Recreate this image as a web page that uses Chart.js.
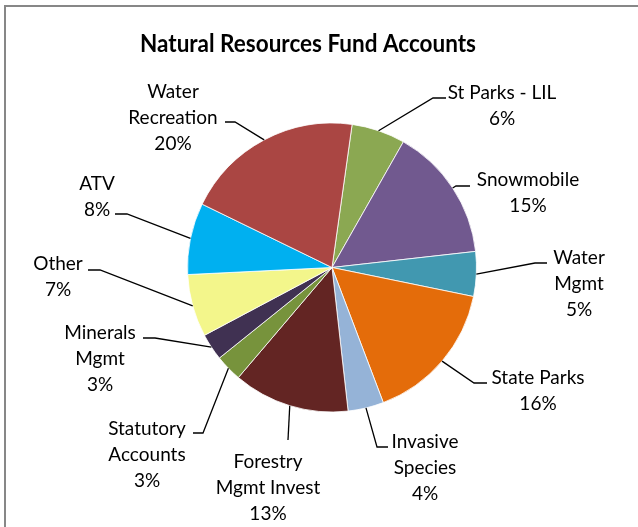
<!DOCTYPE html>
<html>
<head>
<meta charset="utf-8">
<script src="https://cdn.jsdelivr.net/npm/chart.js@4"></script>
<style>
  html, body { margin: 0; padding: 0; background: #fff; }
  #wrap { width: 638px; height: 527px; }
</style>
</head>
<body>
<div id="wrap"><canvas id="fundChart" width="638" height="527"></canvas></div>
<script>
// accounts, clockwise from the top
const accounts = [
  ['St Parks - LIL'],
  ['Snowmobile'],
  ['Water', 'Mgmt'],
  ['State Parks'],
  ['Invasive', 'Species'],
  ['Forestry', 'Mgmt Invest'],
  ['Statutory', 'Accounts'],
  ['Minerals', 'Mgmt'],
  ['Other'],
  ['ATV'],
  ['Water', 'Recreation']
];
const shares = [6, 15, 5, 16, 4, 13, 3, 3, 7, 8, 20];
const sliceColors = ['#8BA852', '#71598F', '#4198B0', '#E46C0A', '#95B3D7', '#632523',
                     '#77933C', '#403152', '#F3F68B', '#00B0F0', '#AA4643'];

// where each label sits: text centre x, first baseline, elbow and end of the leader
const labelSpots = [
  { x: 502, y: 99,  elbow: [433, 98],  end: [446, 98] },
  { x: 528, y: 186, elbow: [456, 186], end: [470, 186] },
  { x: 579, y: 264, elbow: [535, 263], end: [547, 263] },
  { x: 538, y: 384, elbow: [474, 383], end: [487, 383] },
  { x: 425, y: 448, elbow: [377, 447], end: [388, 447] },
  { x: 268, y: 468, elbow: [288, 440], end: [288, 440] },
  { x: 147, y: 435, elbow: [203, 433], end: [193, 433] },
  { x: 100, y: 339, elbow: [155, 338], end: [143, 338] },
  { x: 58,  y: 270, elbow: [100, 270], end: [88, 270] },
  { x: 97,  y: 190, elbow: [127, 214], end: [115, 214] },
  { x: 173, y: 98,  elbow: [235, 122], end: [225, 122] }
];

const labelFont = '19px Lato, "Open Sans", sans-serif';
const lineGap = 26;

const calloutPlugin = {
  id: 'callouts',
  beforeDraw(chart) {
    const ctx = chart.ctx;
    ctx.save();
    ctx.fillStyle = '#fff';
    ctx.fillRect(0, 0, chart.width, chart.height);
    ctx.fillStyle = '#878787';
    ctx.fillRect(4, 5, chart.width - 4, 2);
    ctx.fillRect(4, 5, 2, chart.height - 5);
    // title, a touch taller than the plain bold face
    ctx.fillStyle = '#000';
    ctx.font = 'bold 22.5px Lato, "Open Sans", sans-serif';
    ctx.textAlign = 'center';
    ctx.textBaseline = 'alphabetic';
    ctx.translate(308, 52);
    ctx.scale(1, 1.13);
    ctx.fillText('Natural Resources Fund Accounts', 0, 0);
    ctx.restore();
  },
  afterDatasetsDraw(chart) {
    const ctx = chart.ctx;
    const meta = chart.getDatasetMeta(0);
    const total = shares.reduce((a, b) => a + b, 0);
    ctx.save();
    ctx.strokeStyle = '#000';
    ctx.lineWidth = 1.3;
    ctx.fillStyle = '#000';
    ctx.font = labelFont;
    ctx.textAlign = 'center';
    ctx.textBaseline = 'alphabetic';
    meta.data.forEach((arc, i) => {
      const spot = labelSpots[i];
      const p = arc.getProps(['x', 'y', 'startAngle', 'endAngle', 'outerRadius'], true);
      const mid = (p.startAngle + p.endAngle) / 2;
      const ax = p.x + Math.cos(mid) * p.outerRadius;
      const ay = p.y + Math.sin(mid) * p.outerRadius;
      ctx.beginPath();
      ctx.moveTo(ax, ay);
      ctx.lineTo(spot.elbow[0], spot.elbow[1]);
      ctx.lineTo(spot.end[0], spot.end[1]);
      ctx.stroke();
      const lines = accounts[i].concat([Math.round(shares[i] / total * 100) + '%']);
      lines.forEach((t, k) => ctx.fillText(t, spot.x, spot.y + k * lineGap));
    });
    ctx.restore();
  }
};

new Chart(document.getElementById('fundChart'), {
  type: 'pie',
  data: {
    labels: accounts.map(a => a.join(' ')),
    datasets: [{
      data: shares,
      backgroundColor: sliceColors,
      borderColor: '#fff',
      borderWidth: 0.8,
      radius: 144.5
    }]
  },
  options: {
    responsive: false,
    animation: false,
    rotation: 8,
    layout: { padding: { left: 187.5, right: 161.5, top: 123, bottom: 115 } },
    plugins: {
      legend: { display: false },
      title: { display: false },
      tooltip: { enabled: false }
    }
  },
  plugins: [calloutPlugin]
});
</script>
</body>
</html>
